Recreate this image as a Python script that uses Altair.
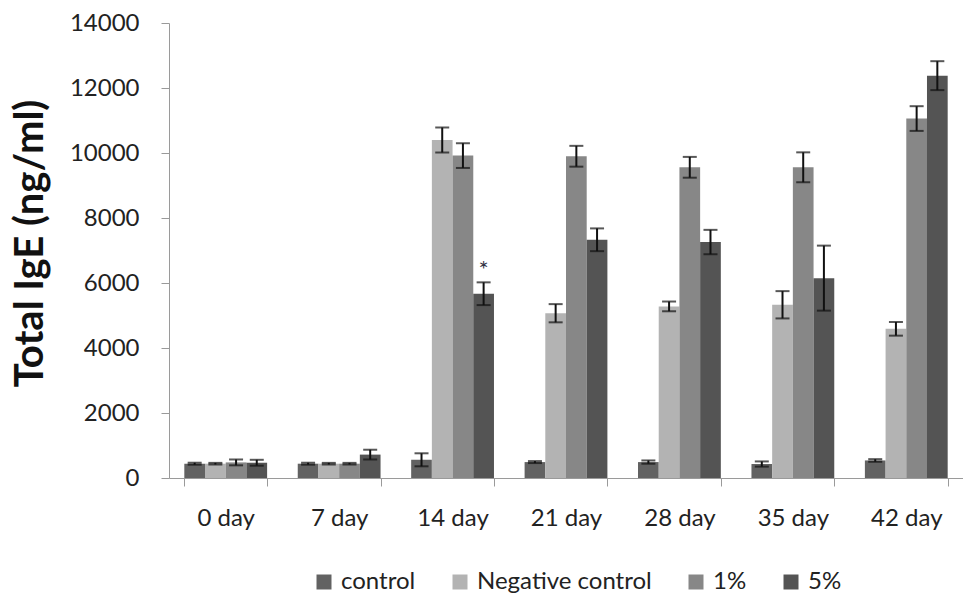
import altair as alt
import pandas as pd

days = ["0 day", "7 day", "14 day", "21 day", "28 day", "35 day", "42 day"]
groups = ["control", "Negative control", "1%", "5%"]
colors = ["#626262", "#b3b3b3", "#878787", "#545454"]

control = [440, 440, 560, 490, 490, 430, 540]
control_err = [30, 30, 200, 30, 50, 80, 40]
negative = [440, 440, 10400, 5070, 5280, 5330, 4590]
negative_err = [25, 25, 385, 280, 150, 420, 210]
pct1 = [480, 440, 9920, 9900, 9560, 9560, 11060]
pct1_err = [90, 25, 380, 320, 320, 460, 380]
pct5 = [470, 720, 5670, 7330, 7260, 6150, 12380]
pct5_err = [90, 150, 350, 350, 375, 1000, 445]

star_day = ["14 day"]
star_group = ["5%"]
star_label = ["*"]

rows = []
for g, vals, errs in zip(groups, [control, negative, pct1, pct5],
                         [control_err, negative_err, pct1_err, pct5_err]):
    for d, v, e in zip(days, vals, errs):
        rows.append({"day": d, "group": g, "value": v, "lo": v - e, "hi": v + e})
df = pd.DataFrame(rows)

star_rows = []
for d, g, lab in zip(star_day, star_group, star_label):
    r = df[(df.day == d) & (df.group == g)].iloc[0]
    star_rows.append({"day": d, "group": g, "hi": r["hi"], "label": lab})
sdf = pd.DataFrame(star_rows)

FONT = "Lato"
x_enc = alt.X("day:N", sort=days,
              scale=alt.Scale(domain=days, paddingInner=0.27, paddingOuter=0.135),
              axis=alt.Axis(title=None, labelAngle=0, tickBand="extent",
                            labelFontSize=24, labelPadding=20, tickSize=8,
                            labelColor="#222222", domainColor="#9a9a9a",
                            tickColor="#9a9a9a", labelFont=FONT))
xo_enc = alt.XOffset("group:N", sort=groups,
                     scale=alt.Scale(domain=groups, paddingInner=0, paddingOuter=0))
y_axis = alt.Axis(values=list(range(0, 14001, 2000)), format="d", grid=False,
                  labelFontSize=24, labelPadding=22, tickSize=8,
                  labelColor="#222222", domainColor="#9a9a9a", tickColor="#9a9a9a",
                  labelFont=FONT, titleFont=FONT, titleFontSize=40,
                  titleFontWeight="bold", titleColor="#111111",
                  titleX=-139, titleY=220, titleAngle=-90,
                  titleAlign="center", titleBaseline="middle")
y_scale = alt.Scale(domain=[0, 14000], nice=False)
TITLE = "Total IgE (ng/ml)"

base = alt.Chart(df)

bars = base.mark_bar().encode(
    x=x_enc, xOffset=xo_enc,
    y=alt.Y("value:Q", scale=y_scale, axis=y_axis, title=TITLE),
    color=alt.Color("group:N", sort=groups,
                    scale=alt.Scale(domain=groups, range=colors),
                    legend=alt.Legend(title=None, orient="none", direction="horizontal",
                                      legendX=143, legendY=547,
                                      symbolType="square", symbolSize=225,
                                      symbolStrokeWidth=0, labelFontSize=24,
                                      labelFont=FONT, labelColor="#222222",
                                      labelLimit=400,
                                      labelOffset=5, columnPadding=32)),
)

rules = base.mark_rule(color="#111111", strokeWidth=2).encode(
    x=x_enc, xOffset=xo_enc,
    y=alt.Y("lo:Q", scale=y_scale, axis=y_axis, title=TITLE),
    y2="hi:Q",
)

caps_hi = base.mark_tick(orient="horizontal", size=14, thickness=2, color="#111111").encode(
    x=x_enc, xOffset=xo_enc,
    y=alt.Y("hi:Q", scale=y_scale, axis=y_axis, title=TITLE),
)
caps_lo = base.mark_tick(orient="horizontal", size=14, thickness=2, color="#111111").encode(
    x=x_enc, xOffset=xo_enc,
    y=alt.Y("lo:Q", scale=y_scale, axis=y_axis, title=TITLE),
)

stars = alt.Chart(sdf).mark_text(dy=-11, fontSize=24, color="#333344", font=FONT).encode(
    x=x_enc, xOffset=xo_enc,
    y=alt.Y("hi:Q", scale=y_scale, axis=y_axis, title=TITLE),
    text="label:N",
)

chart = alt.layer(bars, rules, caps_hi, caps_lo, stars).properties(
    width=794, height=455,
    autosize=alt.AutoSizeParams(type="none"),
    padding={"left": 169, "top": 23, "right": 0, "bottom": 121},
    background="white",
).configure_view(stroke=None)

chart.save("out.html", embed_options={"renderer": "svg", "actions": False})
